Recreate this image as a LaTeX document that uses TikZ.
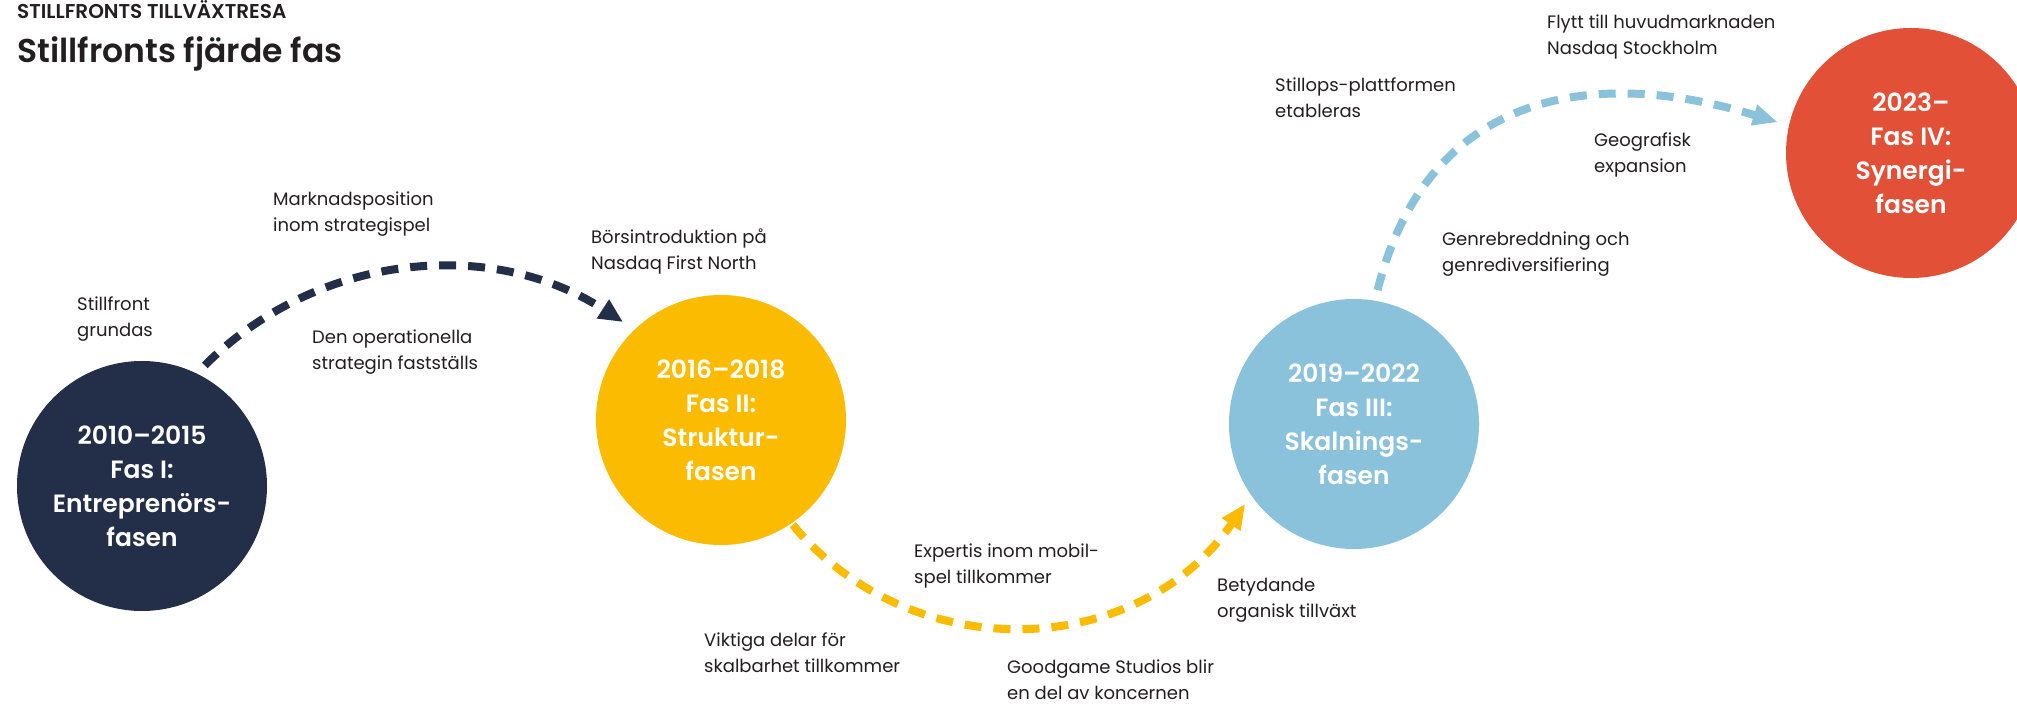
\documentclass[tikz,border=0pt]{standalone}
\usepackage{fontspec}
\setmainfont{Poppins}[BoldFont={Poppins SemiBold}]
\usetikzlibrary{calc,arrows.meta}
\definecolor{navy}{HTML}{232F48}
\definecolor{gold}{HTML}{FABB00}
\definecolor{sky}{HTML}{8AC2DB}
\definecolor{redphase}{HTML}{E35038}
\definecolor{ink}{HTML}{231F20}
\begin{document}
\begin{tikzpicture}[x=1pt,y=1pt,
  phase/.style={circle, minimum size=250pt, inner sep=0pt, text=white, align=center,
    font=\bfseries\fontsize{25}{34}\selectfont},
  lbl/.style={anchor=base west, inner sep=0pt, align=left, text=ink,
    font=\fontsize{18}{26}\selectfont},
  dashline/.style={line width=8pt, dash pattern=on 17pt off 12pt},
]
\useasboundingbox (0,0) rectangle (2017,704);
\fill[white] (0,0) rectangle (2017,704);

% headers
\node[anchor=base west, inner sep=0pt, text=ink, font=\bfseries\fontsize{20}{20}\selectfont] (h1) at (17,685) {STILLFRONTS TILLVÄXTRESA};
\node[anchor=base west, inner sep=0pt, text=ink, font=\bfseries\fontsize{33}{33}\selectfont] (h2) at (17,641) {Stillfronts fjärde fas};

% phases
\node[phase, fill=navy] (c1) at (142,218) {2010–2015\\Fas I:\\Entreprenörs-\\fasen};
\node[phase, fill=gold] (c2) at (721,284) {2016–2018\\Fas II:\\Struktur-\\fasen};
\node[phase, fill=sky] (c3) at (1354,280) {2019–2022\\Fas III:\\Skalnings-\\fasen};
\node[phase, fill=redphase] (c4) at (1911,551) {2023–\\Fas IV:\\Synergi-\\fasen};

% connectors
\draw[dashline, navy, -{Triangle[length=24pt,width=21pt]}]
  ($(c1)+(62.5:136)$) .. controls +(45:158) and +(147:158) .. ($(c2)+(135:138.6)$);
\draw[dashline, gold, -{Triangle[length=25pt,width=21pt]}]
  ($(c2)+(-55.6:127)$) .. controls +(-50.3:188) and +(235.6:188) .. ($(c3)+(-143.7:135)$);
\draw[dashline, sky, -{Triangle[length=25pt,width=20pt]}]
  ($(c3)+(80:136)$) .. controls +(76:200) and +(163:200) .. ($(c4)+(167:136.6)$);

% labels (anchored at the baseline of the last line)
\node[lbl] (l1) at (77,367) {Stillfront\\grundas};
\node[lbl] (l2) at (273,472) {Marknadsposition\\inom strategispel};
\node[lbl] (l3) at (312,334) {Den operationella\\strategin fastställs};
\node[lbl] (l4) at (591,434) {Börsintroduktion på\\Nasdaq First North};
\node[lbl] (l5) at (914,121) {Expertis inom mobil-\\spel tillkommer};
\node[lbl] (l6) at (704,32) {Viktiga delar för\\skalbarhet tillkommer};
\node[lbl] (l7) at (1007,5) {Goodgame Studios blir\\en del av koncernen};
\node[lbl] (l8) at (1217,87) {Betydande\\organisk tillväxt};
\node[lbl] (l9) at (1442,432) {Genrebreddning och\\genrediversifiering};
\node[lbl] (l10) at (1275,586) {Stillops-plattformen\\etableras};
\node[lbl] (l11) at (1594,531) {Geografisk\\expansion};
\node[lbl] (l12) at (1547,649) {Flytt till huvudmarknaden\\Nasdaq Stockholm};
\end{tikzpicture}
\end{document}
